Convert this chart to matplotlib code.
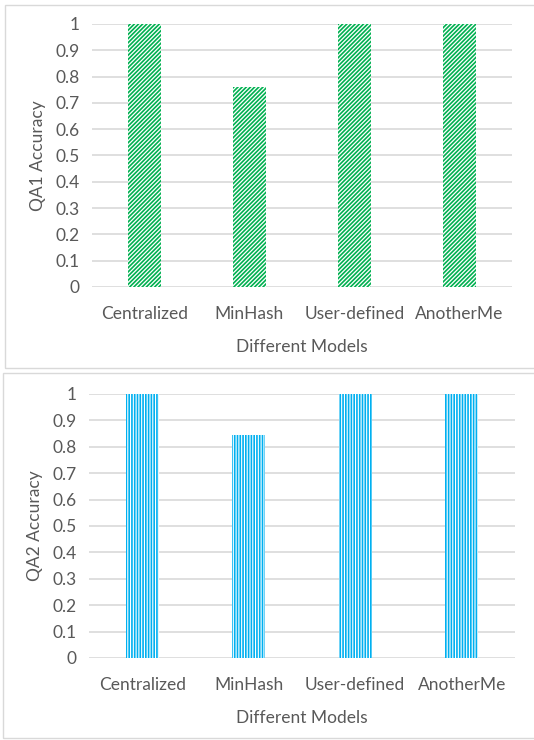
import matplotlib
matplotlib.use('Agg')
import matplotlib.pyplot as plt
from matplotlib.patches import Rectangle

plt.rcParams['font.family'] = ['Lato', 'DejaVu Sans']
plt.rcParams['hatch.linewidth'] = 1.2

models = ['Centralized', 'MinHash', 'User-defined', 'AnotherMe']
qa1_acc = [1.0, 0.76, 1.0, 1.0]
qa2_acc = [1.0, 0.845, 1.0, 1.0]
yticks = [0, 0.1, 0.2, 0.3, 0.4, 0.5, 0.6, 0.7, 0.8, 0.9, 1]
ytick_labels = ['0', '0.1', '0.2', '0.3', '0.4', '0.5', '0.6', '0.7', '0.8', '0.9', '1']

txt = '#595959'
grid = '#D9D9D9'

fig = plt.figure(figsize=(5.34, 7.40), dpi=100)

# chart borders like the excel chart areas
fig.patches.append(Rectangle((5/534, 1-368/740), 540/534, 363/740, transform=fig.transFigure,
                             fill=False, edgecolor='#D9D9D9', lw=1))
fig.patches.append(Rectangle((3/534, 1-738/740), 540/534, 365/740, transform=fig.transFigure,
                             fill=False, edgecolor='#D9D9D9', lw=1))

def draw(ax, vals, color, hatch, ylab):
    x = range(len(models))
    ax.bar(x, vals, width=0.31, facecolor='white', edgecolor=color, hatch=hatch, linewidth=0, zorder=3)
    ax.set_xlim(-0.5, 3.5)
    ax.set_ylim(0, 1)
    ax.set_yticks(yticks)
    ax.set_yticklabels(ytick_labels)
    ax.set_xticks(list(x))
    ax.set_xticklabels(models)
    ax.grid(axis='y', color=grid, lw=1.2, zorder=0)
    ax.set_axisbelow(True)
    for s in ax.spines.values():
        s.set_visible(False)
    ax.tick_params(axis='both', length=0, colors=txt, labelsize=12.5)
    ax.tick_params(axis='y', pad=9)
    ax.tick_params(axis='x', pad=14)
    ax.set_ylabel(ylab, color=txt, fontsize=12.5, labelpad=7)
    ax.set_xlabel('Different Models', color=txt, fontsize=12.5, labelpad=12)

ax1 = fig.add_axes([92/534, 1-287/740, 420/534, 263/740])
draw(ax1, qa1_acc, '#00B050', '////////', 'QA1 Accuracy')

ax2 = fig.add_axes([89/534, 1-658/740, 426/534, 264/740])
draw(ax2, qa2_acc, '#00B0F0', '||||||', 'QA2 Accuracy')

fig.savefig('out.png', dpi=100)
